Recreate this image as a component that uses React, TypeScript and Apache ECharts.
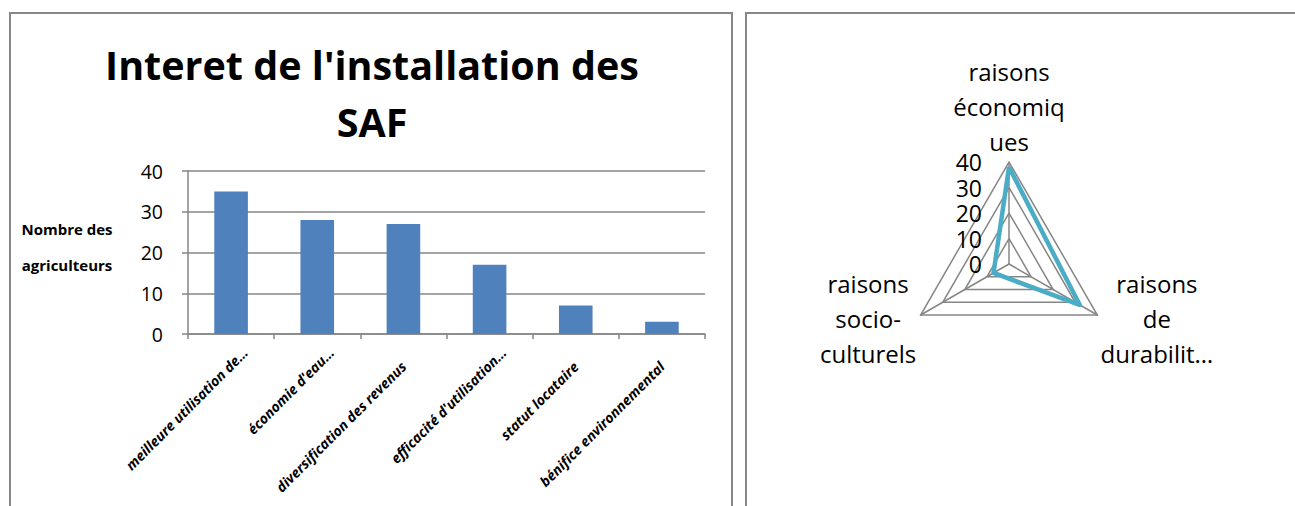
import React, { useEffect, useRef } from "react";
import * as echarts from "echarts";

const categories = [
  "meilleure utilisation de…",
  "économie d'eau…",
  "diversification des revenus",
  "efficacité d'utilisation…",
  "statut locataire",
  "bénifice environnemental",
];
const barValues = [35, 28, 27, 17, 7, 3];
const yMin = 0;
const yMax = 40;
const yInterval = 10;

const radarNames = [
  "raisons\néconomiq\nues",
  "raisons\nsocio-\nculturels",
  "raisons\nde\ndurabilit…",
];
const radarRichKeys = ["t", "l", "r"];
const radarValues = [38, 7, 32];

const FONT = "'Open Sans', Calibri, sans-serif";
const GRAY = "#868686";
const XLAB_SIZE = 14;

function measure(text: string, font: string) {
  const c = document.createElement("canvas").getContext("2d");
  if (!c) return text.length * 7;
  c.font = font;
  return c.measureText(text).width;
}

export default function App() {
  const ref = useRef<HTMLDivElement>(null);
  useEffect(() => {
    document.body.style.margin = "0";
    const chart = echarts.init(ref.current!, undefined, { renderer: "svg" });
    const richBase = { align: "center", fontSize: 24, lineHeight: 35, fontFamily: FONT, color: "#000" };
    const xBase = {
      fontStyle: "italic",
      fontWeight: "bold",
      fontSize: XLAB_SIZE,
      fontFamily: FONT,
      color: "#000",
    };
    const xRich: any = {};
    categories.forEach((c, i) => {
      if (c.endsWith("…")) {
        const w = measure(c, `italic bold ${XLAB_SIZE}px ${FONT}`);
        xRich["k" + i] = { ...xBase, width: Math.max(10, w - 20), align: "left" };
      }
    });
    const option: any = {
      animation: false,
      backgroundColor: "#ffffff",
      textStyle: { fontFamily: FONT },
      title: {
        text: "Interet de l'installation des\nSAF",
        left: 367,
        top: 31,
        textAlign: "center",
        textStyle: {
          fontFamily: FONT,
          fontSize: 39.5,
          fontWeight: "bold",
          color: "#000",
          lineHeight: 57,
        },
      },
      graphic: [
        {
          type: "rect",
          silent: true,
          shape: { x: 10, y: 13, width: 722, height: 520 },
          style: { fill: "none", stroke: "#878787", lineWidth: 2 },
        },
        {
          type: "rect",
          silent: true,
          shape: { x: 746, y: 13, width: 600, height: 520 },
          style: { fill: "none", stroke: "#878787", lineWidth: 2 },
        },
      ],
      grid: { left: 188, top: 171, width: 517, height: 163 },
      xAxis: {
        type: "category",
        data: categories,
        axisLine: { show: true, lineStyle: { color: GRAY, width: 1.5 } },
        axisTick: { show: true, length: 5, lineStyle: { color: GRAY, width: 1.5 } },
        axisLabel: {
          interval: 0,
          rotate: 45,
          ...xBase,
          margin: 30,
          formatter: (v: string, i: number) => (xRich["k" + i] ? `{k${i}|${v}}` : v),
          rich: xRich,
        },
      },
      yAxis: {
        type: "value",
        min: yMin,
        max: yMax,
        interval: yInterval,
        name: "{n|Nombre des}\n{n|agriculteurs}\n{s| }",
        nameLocation: "middle",
        nameRotate: 0,
        nameGap: 121,
        nameMoveOverlap: false,
        nameTextStyle: {
          fontFamily: FONT,
          fontWeight: "bold",
          fontSize: 15,
          lineHeight: 36,
          color: "#000",
          align: "center",
          rich: {
            n: { fontFamily: FONT, fontWeight: "bold", fontSize: 15, lineHeight: 36, color: "#000", align: "center" },
            s: { fontSize: 2, lineHeight: 12, color: "#fff" },
          },
        },
        axisLine: { show: true, lineStyle: { color: GRAY, width: 1.5 } },
        axisTick: { show: true, length: 6, lineStyle: { color: GRAY, width: 1.5 } },
        axisLabel: { fontSize: 19.5, color: "#000", margin: 25, fontFamily: FONT },
        splitLine: { lineStyle: { color: GRAY, width: 1.5 } },
      },
      radar: {
        center: [1009, 264],
        radius: 102,
        startAngle: 90,
        shape: "polygon",
        splitNumber: 4,
        nameGap: 3,
        nameMoveOverlap: false,
        axisName: {
          color: "#000",
          fontFamily: FONT,
          fontSize: 24,
          lineHeight: 35,
          formatter: (name: string) => {
            const idx = radarNames.indexOf(name);
            const key = radarRichKeys[idx] || "t";
            const body = name
              .split("\n")
              .map((l) => `{${key}|${l}}`)
              .join("\n");
            return idx === 0 ? body : `{s| }\n${body}`;
          },
          rich: {
            t: { ...richBase, width: 120 },
            l: { ...richBase, width: 100 },
            r: { ...richBase, width: 114 },
            s: { fontSize: 2, lineHeight: 3, color: "#fff" },
          },
        },
        axisLine: { show: true, lineStyle: { color: GRAY, width: 1.5 } },
        splitLine: { show: true, lineStyle: { color: GRAY, width: 1.5 } },
        splitArea: { show: false },
        axisTick: { show: false },
        axisLabel: { show: false },
        indicator: radarNames.map((n, i) => ({
          name: n,
          min: yMin,
          max: yMax,
          nameMoveOverlap: false,
          ...(i === 0
            ? { axisLabel: { show: true, fontSize: 23, color: "#000", margin: 27, fontFamily: FONT } }
            : {}),
        })),
      },
      series: [
        {
          type: "bar",
          data: barValues,
          barWidth: "39%",
          itemStyle: { color: "#4f81bd" },
        },
        {
          type: "radar",
          symbol: "none",
          lineStyle: { color: "#4bacc6", width: 4.5 },
          data: [{ value: radarValues }],
        },
      ],
    };
    chart.setOption(option);
    return () => chart.dispose();
  }, []);
  return (
    <div
      ref={ref}
      style={{ position: "absolute", left: 0, top: 0, width: 1295, height: 506 }}
    />
  );
}
